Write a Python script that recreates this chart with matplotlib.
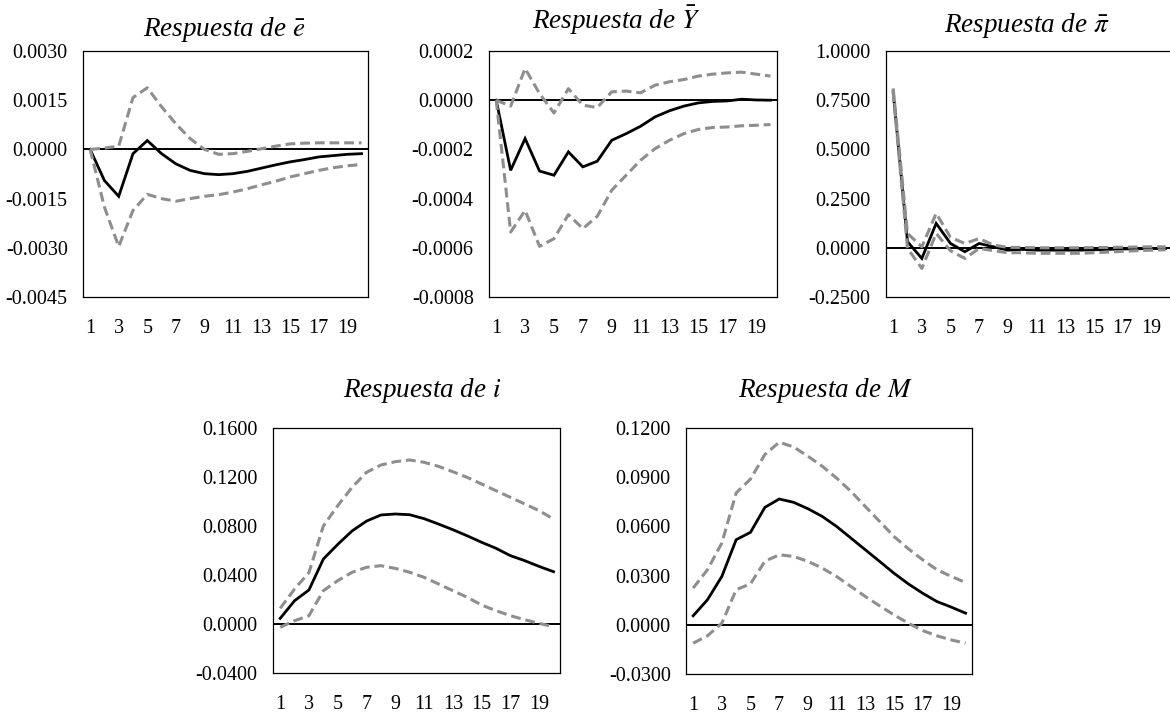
import matplotlib
matplotlib.use("Agg")
import matplotlib.pyplot as plt

# ---------------- data ----------------
periods = list(range(1, 21))
xtick_values = list(range(1, 20, 2))

# Respuesta de e-bar
e_mid = [0.0, -0.00095, -0.00143, -0.00013, 0.00027, -0.00013, -0.00044, -0.00064, -0.00074, -0.00077,
         -0.00074, -0.00067, -0.00057, -0.00047, -0.00038, -0.00031, -0.00023, -0.00019, -0.00015, -0.00013]
e_up = [0.0, 0.00004, 0.0001, 0.00158, 0.00188, 0.0013, 0.00078, 0.00033, 0.0, -0.00015,
        -0.00013, -0.00006, 0.00002, 0.0001, 0.00017, 0.00019, 0.0002, 0.0002, 0.0002, 0.0002]
e_lo = [0.0, -0.00176, -0.00296, -0.00186, -0.00137, -0.0015, -0.00158, -0.0015, -0.00143, -0.00138,
        -0.0013, -0.0012, -0.00108, -0.00097, -0.00084, -0.00074, -0.00064, -0.00056, -0.0005, -0.00046]
e_ticks = [-0.0045, -0.0030, -0.0015, 0.0, 0.0015, 0.0030]

# Respuesta de Y-bar
y_mid = [0.0, -0.000285, -0.000156, -0.000288, -0.000305, -0.00021, -0.000271, -0.000248, -0.000163, -0.000136,
         -0.000106, -0.000068, -0.000043, -0.000024, -0.000011, -0.000005, -0.000003, 0.000004, 0.000001, 0.0]
y_up = [0.0, -0.000024, 0.000129, 0.000027, -0.000052, 0.000047, -0.00002, -0.00003, 0.000034, 0.000037,
        0.00003, 0.000061, 0.000075, 0.000084, 0.000098, 0.000106, 0.000111, 0.000114, 0.000106, 0.000098]
y_lo = [0.0, -0.000536, -0.000448, -0.000594, -0.000563, -0.000465, -0.000522, -0.000472, -0.000366, -0.000305,
        -0.000244, -0.000197, -0.000163, -0.000136, -0.000119, -0.000111, -0.000109, -0.000104, -0.000102, -0.000099]
y_ticks = [-0.0008, -0.0006, -0.0004, -0.0002, 0.0, 0.0002]

# Respuesta de pi-bar
p_mid = [0.794, 0.031, -0.054, 0.124, 0.022, -0.02, 0.022, 0.005, -0.012, -0.008,
         -0.012, -0.012, -0.012, -0.012, -0.01, -0.008, -0.006, -0.005, -0.004, -0.003]
p_up = [0.81, 0.073, 0.005, 0.175, 0.053, 0.022, 0.047, 0.014, 0.002, 0.002,
        0.0, 0.0, 0.0, 0.0, 0.001, 0.002, 0.003, 0.004, 0.005, 0.005]
p_lo = [0.79, -0.003, -0.105, 0.073, -0.015, -0.054, -0.003, -0.015, -0.025, -0.025,
        -0.028, -0.028, -0.028, -0.028, -0.025, -0.022, -0.018, -0.015, -0.012, -0.01]
p_ticks = [-0.25, 0.0, 0.25, 0.5, 0.75, 1.0]

# Respuesta de i
i_mid = [0.0046, 0.019, 0.0278, 0.053, 0.065, 0.076, 0.084, 0.089, 0.0898, 0.0892,
         0.086, 0.0816, 0.077, 0.072, 0.0667, 0.0618, 0.0558, 0.0517, 0.047, 0.0427]
i_up = [0.0128, 0.0286, 0.042, 0.080, 0.0966, 0.1116, 0.1238, 0.1298, 0.1325, 0.1339,
        0.132, 0.1287, 0.1243, 0.1197, 0.1143, 0.1088, 0.1034, 0.098, 0.0925, 0.0857]
i_lo = [-0.0027, 0.0027, 0.0068, 0.0272, 0.0354, 0.0422, 0.0463, 0.0476, 0.0454, 0.0422,
        0.0381, 0.0327, 0.0272, 0.0218, 0.0155, 0.0109, 0.0068, 0.0035, 0.0005, -0.0022]
i_ticks = [-0.04, 0.0, 0.04, 0.08, 0.12, 0.16]

# Respuesta de M
m_mid = [0.0055, 0.0153, 0.0295, 0.0519, 0.0564, 0.0716, 0.0767, 0.0747, 0.0708, 0.0661,
         0.06, 0.0529, 0.0458, 0.0387, 0.0315, 0.025, 0.0193, 0.0142, 0.0108, 0.0071]
m_up = [0.0224, 0.0336, 0.0499, 0.0804, 0.0889, 0.1038, 0.1113, 0.1085, 0.1028, 0.0967,
        0.0895, 0.0814, 0.0722, 0.0631, 0.0539, 0.0464, 0.0397, 0.0336, 0.0295, 0.0258]
m_lo = [-0.0112, -0.0067, 0.001, 0.0214, 0.025, 0.0387, 0.0427, 0.0417, 0.0387, 0.0346,
        0.0295, 0.0234, 0.0173, 0.0116, 0.0061, 0.001, -0.0035, -0.0067, -0.0092, -0.0112]
m_ticks = [-0.03, 0.0, 0.03, 0.06, 0.09, 0.12]

titles = [r"Respuesta de $\bar{e}$", r"Respuesta de $\bar{Y}$", r"Respuesta de $\bar{\pi}$",
          "Respuesta de $i$", "Respuesta de $M$"]

# ---------------- style ----------------
plt.rcParams["font.family"] = ["Liberation Serif", "DejaVu Serif"]
plt.rcParams["mathtext.fontset"] = "stix"
plt.rcParams["axes.unicode_minus"] = False

W, H = 1170, 717
fig = plt.figure(figsize=(W / 100, H / 100), dpi=100)

# axes boxes in pixels: left, top, right, bottom
boxes = [(83, 51, 368, 297), (489, 51, 777, 297), (886, 51, 1172, 297),
         (273, 428, 560, 673), (686, 428, 972, 674)]
title_pos = [(224, 36), (616, 29), (1027, 32), (422, 397), (825, 397)]

panels = [(e_mid, e_up, e_lo, e_ticks), (y_mid, y_up, y_lo, y_ticks),
          (p_mid, p_up, p_lo, p_ticks), (i_mid, i_up, i_lo, i_ticks),
          (m_mid, m_up, m_lo, m_ticks)]

GRAY = "#8e8e8e"


def fmt(v):
    if abs(v) < 1e-12:
        v = 0.0
    return f"{v:.4f}"


for (mid, up, lo, ticks), (l, t, r, b), title, (tx, ty) in zip(panels, boxes, titles, title_pos):
    ax = fig.add_axes([l / W, (H - b) / H, (r - l) / W, (b - t) / H])
    ax.axhline(0, color="black", lw=1.4, zorder=1)
    ax.plot(periods, mid, color="black", lw=2.0, solid_joinstyle="miter", zorder=3)
    ax.plot(periods, up, color=GRAY, lw=2.2, dashes=(3.2, 1.6), zorder=4)
    ax.plot(periods, lo, color=GRAY, lw=2.2, dashes=(3.2, 1.6), zorder=4)
    ax.set_xlim(0.5, 20.45)
    ax.set_ylim(ticks[0], ticks[-1])
    ax.set_yticks(ticks)
    ax.set_yticklabels([fmt(v) for v in ticks])
    ax.set_xticks(xtick_values)
    ax.set_xticklabels([str(v) for v in xtick_values])
    ax.tick_params(axis="both", length=0, labelsize=14.5)
    ax.tick_params(axis="x", pad=16)
    ax.tick_params(axis="y", pad=11)
    for s in ax.spines.values():
        s.set_linewidth(0.9)
        s.set_color("black")
    fig.text(tx / W, 1 - ty / H, title, ha="center", va="baseline",
             fontsize=19.5, style="italic")

fig.savefig("out.png", dpi=100)
